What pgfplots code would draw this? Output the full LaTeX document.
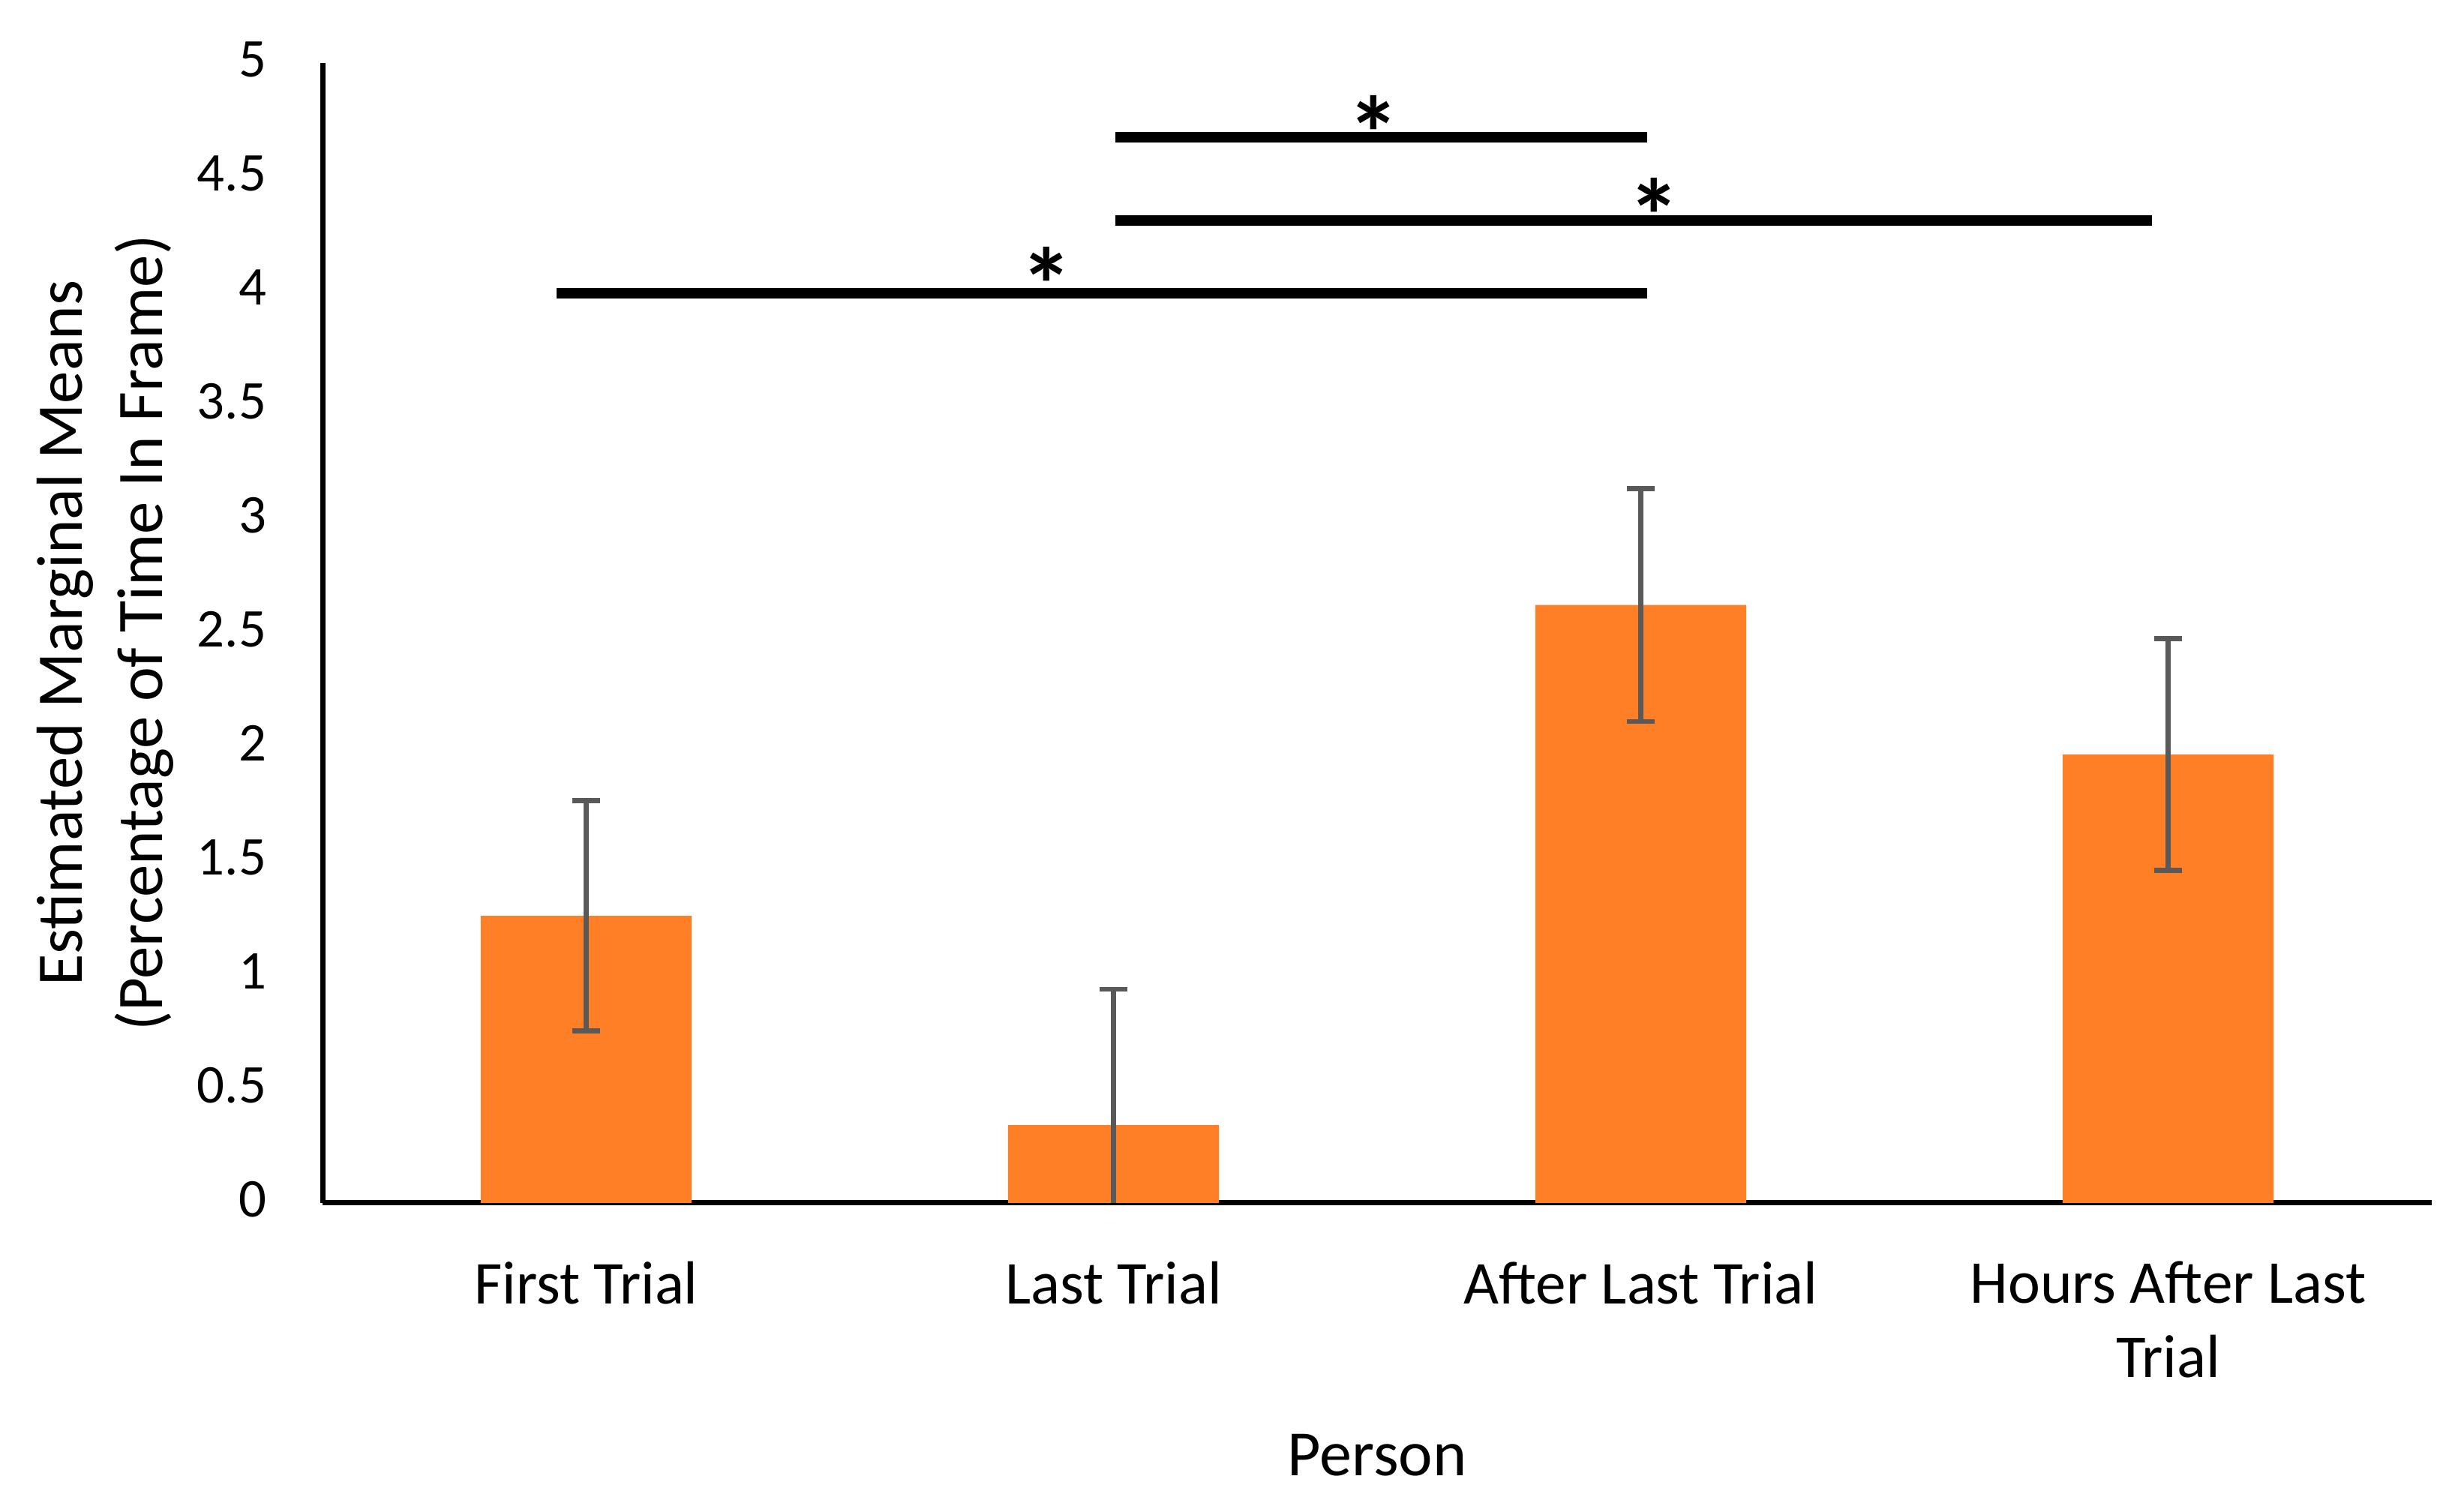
\documentclass[border=0pt]{standalone}
\usepackage{fontspec}
\setmainfont{Carlito}
\usepackage{pgfplots}
\pgfplotsset{compat=1.18}
\definecolor{barorange}{HTML}{FF7F27}
\definecolor{errgray}{HTML}{595959}
\tikzset{sigstar/.style={inner sep=0pt, anchor=center, yshift=-4pt, font=\fontsize{20pt}{24pt}\selectfont\bfseries}}
\begin{document}
\begin{tikzpicture}
\begin{axis}[
  name=ax,
  scale only axis,
  width=401.71pt, height=217.07pt,
  xmin=0, xmax=4, ymin=0, ymax=5,
  axis lines=left,
  axis line style={-, line width=1pt, black},
  major tick length=0pt,
  xtick={0.5,1.5,2.5,3.5},
  xticklabels={First Trial, Last Trial, After Last Trial, {Hours After Last\\Trial}},
  ytick={0,0.5,1,1.5,2,2.5,3,3.5,4,4.5,5},
  yticklabels={0,0.5,1,1.5,2,2.5,3,3.5,4,4.5,5},
  /pgf/number format/assume math mode=true,
  yticklabel style={font=\fontsize{10.4pt}{12pt}\selectfont, anchor=east, inner sep=0pt, xshift=-10.5pt, yshift=0.7pt},
  xticklabel style={font=\fontsize{11.6pt}{14.2pt}\selectfont, align=center, anchor=north, inner sep=0pt, yshift=-10.9pt},
  xlabel={Person},
  xlabel style={font=\fontsize{12.3pt}{14pt}\selectfont, at={(axis description cs:0.5,0)}, anchor=base, inner sep=0pt, yshift=-52pt},
  ylabel={Estimated Marginal Means\\(Percentage of Time In Frame)},
  ylabel style={font=\fontsize{12.4pt}{15.3pt}\selectfont, align=center, at={(axis description cs:-0.0700,0.5)}, anchor=south, inner sep=0pt},
]
\addplot[ybar, bar width=0.4, fill=barorange, draw=none,
  error bars/.cd, y dir=both, y explicit,
  error bar style={color=errgray, line width=0.95pt},
  error mark options={rotate=90, mark size=2.7pt, line width=0.95pt, color=errgray}]
  coordinates {
  (0.5,1.26) +- (0,0.505)
  (1.5,0.342) +- (0,0.596)
  (2.5,2.624) +- (0,0.511)
  (3.5,1.968) +- (0,0.508)
  };
\addplot[black, line width=1.9pt, no markers] coordinates {(1.504,4.676) (2.512,4.676)};
\addplot[black, line width=1.9pt, no markers] coordinates {(1.503,4.311) (3.469,4.311)};
\addplot[black, line width=1.9pt, no markers] coordinates {(0.4435,3.991) (2.512,3.991)};
\node[sigstar] at (axis cs:1.993,4.786) {*};
\node[sigstar] at (axis cs:2.526,4.424) {*};
\node[sigstar] at (axis cs:1.373,4.123) {*};
\end{axis}
\pgfresetboundingbox
\useasboundingbox ([xshift=-61.43pt,yshift=-58.86pt]ax.south west) rectangle ([xshift=406.14pt,yshift=229.14pt]ax.south west);
\end{tikzpicture}
\end{document}
